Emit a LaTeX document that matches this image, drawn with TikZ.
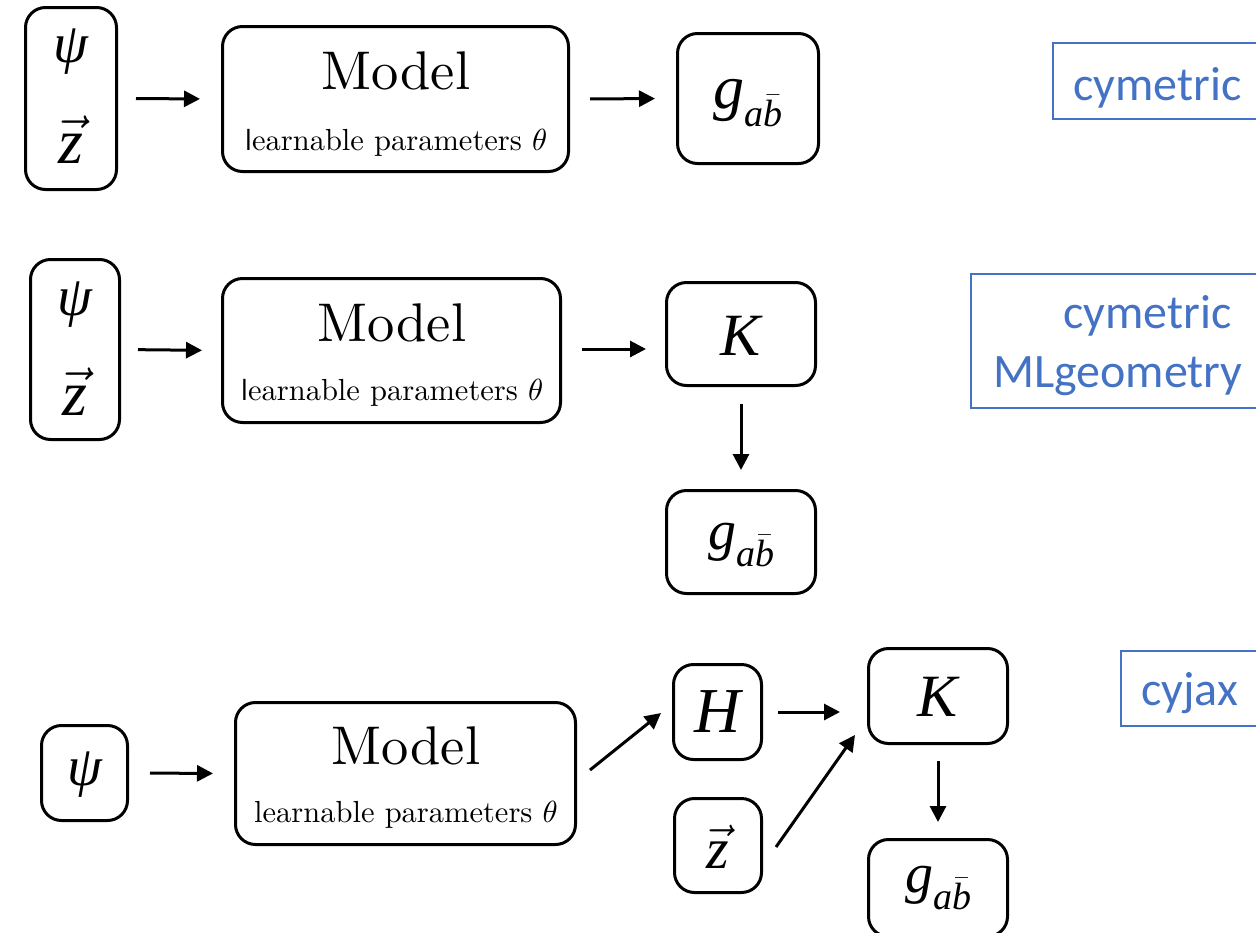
\RequirePackage{fix-cm}
\documentclass[tikz,border=0pt]{standalone}
\usepackage{fontspec}
\usepackage{graphicx}
\usetikzlibrary{calc,arrows.meta}
\newfontfamily\tms{Liberation Serif}
\newfontfamily\blufont{Carlito}
\definecolor{tagblue}{HTML}{4472C4}
% metric component g_{a\bar b} in Times-like italics
\newcommand\gab{g\raisebox{-0.3em}{\fontsize{38}{38}\selectfont a$\bar{\hbox{b}}$}}
\newcommand\zvec{$\vec{\hbox{z}}$}
% model labels: 10pt design size, enlarged
\newcommand\modeltitle{\scalebox{5.45}{\fontsize{10}{12}\selectfont Model}}
\newcommand\modelsub[1]{\scalebox{3.05}{\fontsize{10}{12}\selectfont #1earnable parameters $\theta$}}
\tikzset{
  box/.style={draw, line width=3pt, rounded corners=20pt, inner sep=0pt},
  tag/.style={draw=tagblue, line width=2pt},
  arr/.style={-{Triangle[length=16pt,width=16pt]}, line width=3pt},
  sym/.style={font=\fontsize{56}{56}\selectfont\tms\itshape, inner sep=0pt},
  zsym/.style={font=\fontsize{64}{64}\selectfont\tms\itshape, inner sep=0pt},
  mtitle/.style={anchor=base, inner sep=0pt},
  msub/.style={anchor=base, inner sep=0pt},
  tagtext/.style={font=\fontsize{48}{48}\selectfont\blufont, text=tagblue, anchor=base west, inner sep=0pt},
}
\begin{document}
\begin{tikzpicture}[x=1pt,y=-1pt]
\useasboundingbox (0,0) rectangle (1256,932);
\clip (0,0) rectangle (1256,932);

% ---------- first pipeline: cymetric ----------
\node[box, minimum width=91pt, minimum height=182pt] (in1) at (71,98.5) {};
\node[sym] (psi1) at (71,52) {ψ};
\node[zsym] (z1) at (71,140) {\zvec};
\node[box, minimum width=346pt, minimum height=145pt] (model1) at (395.5,99) {};
\node[mtitle] (mt1) at (396,89) {\modeltitle};
\node[msub] (ms1) at (396,150) {\modelsub{{\sffamily l}}};
\node[box, minimum width=141pt, minimum height=130pt] (g1) at (748,98.5) {};
\node[sym, font=\fontsize{62}{62}\selectfont\tms\itshape] (gl1) at (748,103) {\gab};
\draw[arr, shorten <=18pt, shorten >=21pt] (in1.east) -- (model1.west);
\draw[arr, shorten <=20pt, shorten >=21pt] (model1.east) -- (g1.west);
\draw[tag] (1053,43) rectangle (1270,119);
\node[tagtext] (t1) at (1073,100) {cymetric};

% ---------- second pipeline: cymetric / MLgeometry ----------
\node[box, minimum width=89pt, minimum height=180pt] (in2) at (75,349.5) {};
\node[sym] (psi2) at (75,305) {ψ};
\node[zsym] (z2) at (75,392) {\zvec};
\node[box, minimum width=338pt, minimum height=144pt] (model2) at (391.5,350.5) {};
\node[mtitle] (mt2) at (392,341) {\modeltitle};
\node[msub] (ms2) at (392,400) {\modelsub{{\sffamily l}}};
\node[box, minimum width=149pt, minimum height=103pt] (K2) at (741,334) {};
\node[sym, font=\fontsize{60}{60}\selectfont\tms\itshape] (kl2) at (741,336) {K};
\node[box, minimum width=149pt, minimum height=103pt] (g2) at (741,542) {};
\node[sym, font=\fontsize{56}{56}\selectfont\tms\itshape] (gl2) at (741,545) {\gab};
\draw[arr, shorten <=17pt, shorten >=19pt] (in2.east) -- (model2.west);
\draw[arr, shorten <=20pt, shorten >=19pt] ($(model2.east)+(0,-1.5)$) -- ($(model2.east -| K2.west)+(0,-1.5)$);
\draw[arr, shorten <=17pt, shorten >=19pt] (K2.south) -- (g2.north);
\draw[tag] (971,274) rectangle (1270,408);
\node[tagtext] (t2a) at (1063,328) {cymetric};
\node[tagtext] (t2b) at (993,387) {MLgeometry};

% ---------- third pipeline: cyjax ----------
\node[box, minimum width=86pt, minimum height=95pt] (psi3) at (84.5,773) {};
\node[sym] (pl3) at (84.5,775) {ψ};
\node[box, minimum width=340pt, minimum height=142pt] (model3) at (405.5,773.5) {};
\node[mtitle] (mt3) at (406,764) {\modeltitle};
\node[msub] (ms3) at (406,822) {\modelsub{l}};
\node[box, minimum width=88pt, minimum height=95pt] (H3) at (717.5,712) {};
\node[sym, font=\fontsize{64}{64}\selectfont\tms\itshape] (hl3) at (718,712) {H};
\node[box, minimum width=139pt, minimum height=95pt] (K3) at (938,696) {};
\node[sym, font=\fontsize{60}{60}\selectfont\tms\itshape] (kl3) at (938,697) {K};
\node[box, minimum width=87pt, minimum height=94pt] (z3) at (718,845.5) {};
\node[zsym, font=\fontsize{58}{58}\selectfont\tms\itshape] (zl3) at (718,847) {\zvec};
\node[box, minimum width=139pt, minimum height=97pt] (g3) at (938,888) {};
\node[sym, font=\fontsize{56}{56}\selectfont\tms\itshape] (gl3) at (938,888) {\gab};
\draw[arr, shorten <=21pt, shorten >=21pt] (psi3.east) -- (model3.west);
\draw[arr] ($(model3.east)+(13,-3.5)$) -- ($(H3.west)+(-11,1)$);
\draw[arr, shorten <=15pt, shorten >=27pt] (H3.east) -- (H3.east -| K3.west);
\draw[arr] ($(z3.east)+(13,1.5)$) -- ($(K3.south west)+(-12,-10)$);
\draw[arr, shorten <=16pt, shorten >=16pt] (K3.south) -- (g3.north);
\draw[tag] (1121,651) rectangle (1270,726);
\node[tagtext] (t3) at (1141,705) {cyjax};
\end{tikzpicture}
\end{document}
